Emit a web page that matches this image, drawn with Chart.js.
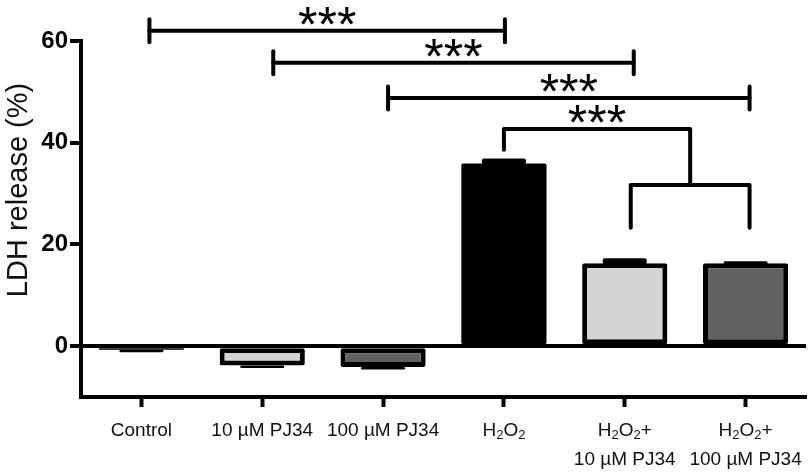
<!DOCTYPE html>
<html>
<head>
<meta charset="utf-8">
<script src="https://cdn.jsdelivr.net/npm/chart.js@4.4.1/dist/chart.umd.min.js"></script>
<style>
  html, body { margin: 0; padding: 0; background: #fff; }
</style>
</head>
<body>
<canvas id="chart" width="812" height="473"></canvas>
<script>
// LDH release per treatment group (mean and SEM, %)
const categories = ['Control', '10 µM PJ34', '100 µM PJ34', 'H2O2', ['H2O2+', '10 µM PJ34'], ['H2O2+', '100 µM PJ34']]
const ldhRelease = [-0.7, -3.8, -4.1, 35.9, 16.3, 16.3]
const ldhSem = [0.3, 0.3, 0.3, 1.0, 1.0, 0.4]
const yTicks = [0, 20, 40, 60]
const yTitle = 'LDH release (%)'

// pairwise comparisons (group index pairs) and their marks
const comparisons = [[0, 3], [1, 4], [2, 5]]
const comparisonMarks = ['***', '***', '***']
// H2O2 against both H2O2 + PJ34 groups
const groupComparison = { from: 3, to: [4, 5], mark: '***' }

const FONT = '"Liberation Sans", Arial, Helvetica, sans-serif'

// bracket geometry, in y units, plus small pixel nudges of the end ticks
const bracketLevels = [62.0, 55.7, 48.8]
const bracketNudge = [[8, 1], [11, 9], [5, 4]]
const groupLevels = { top: 42.7, leftLeg: 38.6, lower: 31.7, legs: 23.3, nudge: [6, 4] }

const errorBars = {
    id: 'errorBars',
    afterDatasetsDraw(chart) {
        const ctx = chart.ctx
        const y = chart.scales.y
        const meta = chart.getDatasetMeta(0)
        ctx.save()
        ctx.fillStyle = '#000'
        meta.data.forEach((bar, i) => {
            let v = ldhRelease[i]
            let y0 = y.getPixelForValue(v)
            let y1 = y.getPixelForValue(v + Math.sign(v) * ldhSem[i])
            ctx.beginPath()
            ctx.roundRect(bar.x - 22, Math.min(y0, y1), 44, Math.abs(y1 - y0) + 1, 2)
            ctx.fill()
        })
        ctx.restore()
    }
}

function drawRich(ctx, text, cx, baseY) {
    // digits right after H or O are drawn as subscripts
    let runs = []
    for (let k = 0; k < text.length; k++) {
        let sub = /\d/.test(text[k]) && /[HO]/.test(text[k - 1] || '')
        let last = runs[runs.length - 1]
        if (last && last.sub === sub) last.t += text[k]
        else runs.push({ t: text[k], sub: sub })
    }
    const main = '19px ' + FONT, small = '13px ' + FONT
    let w = 0
    runs.forEach(r => { ctx.font = r.sub ? small : main; r.w = ctx.measureText(r.t).width; w += r.w })
    let xx = cx - w / 2
    runs.forEach(r => {
        ctx.font = r.sub ? small : main
        ctx.fillText(r.t, xx, baseY + (r.sub ? 3 : 0))
        xx += r.w
    })
}

const labelsAndMarks = {
    id: 'labelsAndMarks',
    afterDraw(chart) {
        const ctx = chart.ctx
        const x = chart.scales.x, y = chart.scales.y
        ctx.save()
        ctx.fillStyle = '#111'
        ctx.textBaseline = 'alphabetic'
        ctx.textAlign = 'left'

        // category labels
        categories.forEach((c, i) => {
            let lines = Array.isArray(c) ? c : [c]
            let cx = x.getPixelForTick(i)
            lines.forEach((l, j) => drawRich(ctx, l, cx, 436 + j * 29))
        })

        // y title
        ctx.save()
        ctx.translate(27, 190)
        ctx.rotate(-Math.PI / 2)
        ctx.textAlign = 'center'
        ctx.font = '29px ' + FONT
        ctx.fillText(yTitle, 0, 0)
        ctx.restore()

        // significance brackets
        ctx.strokeStyle = '#000'
        ctx.fillStyle = '#000'
        ctx.lineWidth = 4
        ctx.lineCap = 'round'
        ctx.lineJoin = 'round'
        ctx.font = '50px ' + FONT
        ctx.textAlign = 'center'
        const line = (pts) => {
            ctx.beginPath()
            pts.forEach((p, k) => k ? ctx.lineTo(p[0], p[1]) : ctx.moveTo(p[0], p[1]))
            ctx.stroke()
        }
        comparisons.forEach((pair, k) => {
            let x1 = x.getPixelForValue(pair[0]) + bracketNudge[k][0]
            let x2 = x.getPixelForValue(pair[1]) + bracketNudge[k][1]
            let yy = y.getPixelForValue(bracketLevels[k])
            line([[x1, yy], [x2, yy]])
            line([[x1, yy - 11.5], [x1, yy + 11.5]])
            line([[x2, yy - 11.5], [x2, yy + 11.5]])
            ctx.fillText(comparisonMarks[k], (x1 + x2) / 2, yy + 11)
        })

        let g = groupComparison
        let gx0 = x.getPixelForValue(g.from)
        let ga = x.getPixelForValue(g.to[0]) + groupLevels.nudge[0]
        let gb = x.getPixelForValue(g.to[1]) + groupLevels.nudge[1]
        let gm = (ga + gb) / 2
        let yTop = y.getPixelForValue(groupLevels.top)
        let yLow = y.getPixelForValue(groupLevels.lower)
        line([[gx0, y.getPixelForValue(groupLevels.leftLeg)], [gx0, yTop], [gm, yTop], [gm, yLow]])
        line([[ga, y.getPixelForValue(groupLevels.legs)], [ga, yLow], [gb, yLow], [gb, y.getPixelForValue(groupLevels.legs)]])
        ctx.fillText(g.mark, (gx0 + gm) / 2, yTop + 11)

        ctx.restore()
    }
}

new Chart(document.getElementById('chart'), {
    type: 'bar',
    data: {
        labels: categories.map(c => Array.isArray(c) ? c.join(' ') : c),
        datasets: [{
            data: ldhRelease,
            backgroundColor: ['#000000', '#d4d4d4', '#616161', '#000000', '#d4d4d4', '#616161'],
            borderColor: '#000',
            // black bars need no outline (avoids a visible seam)
            borderWidth: [0, 5, 5, 0, 5, 5],
            borderSkipped: false,
            borderRadius: 2,
            barPercentage: 0.705,
            categoryPercentage: 1
        }]
    },
    options: {
        responsive: false,
        animation: false,
        layout: { padding: { top: 41, right: 6, left: 0, bottom: 0 } },
        plugins: { legend: { display: false }, tooltip: { enabled: false } },
        scales: {
            x: {
                offset: true,
                grid: { offset: false, drawOnChartArea: false, tickLength: 10, tickWidth: 4, tickColor: '#000' },
                border: { color: '#000', width: 4 },
                ticks: { display: false },
                afterFit: s => { s.height = 76 }
            },
            y: {
                min: -10,
                max: 60,
                afterBuildTicks: s => { s.ticks = yTicks.map(v => ({ value: v })) },
                grid: {
                    color: c => (c.tick && c.tick.value === 0) ? '#000' : 'rgba(0,0,0,0)',
                    lineWidth: 4,
                    tickColor: '#000',
                    tickLength: 11,
                    tickWidth: 4
                },
                border: { color: '#000', width: 4 },
                ticks: { color: '#000', padding: 2, font: { family: FONT, size: 24, weight: 'bold' } },
                afterFit: s => { s.width = 81 }
            }
        }
    },
    plugins: [errorBars, labelsAndMarks]
})
</script>
</body>
</html>
